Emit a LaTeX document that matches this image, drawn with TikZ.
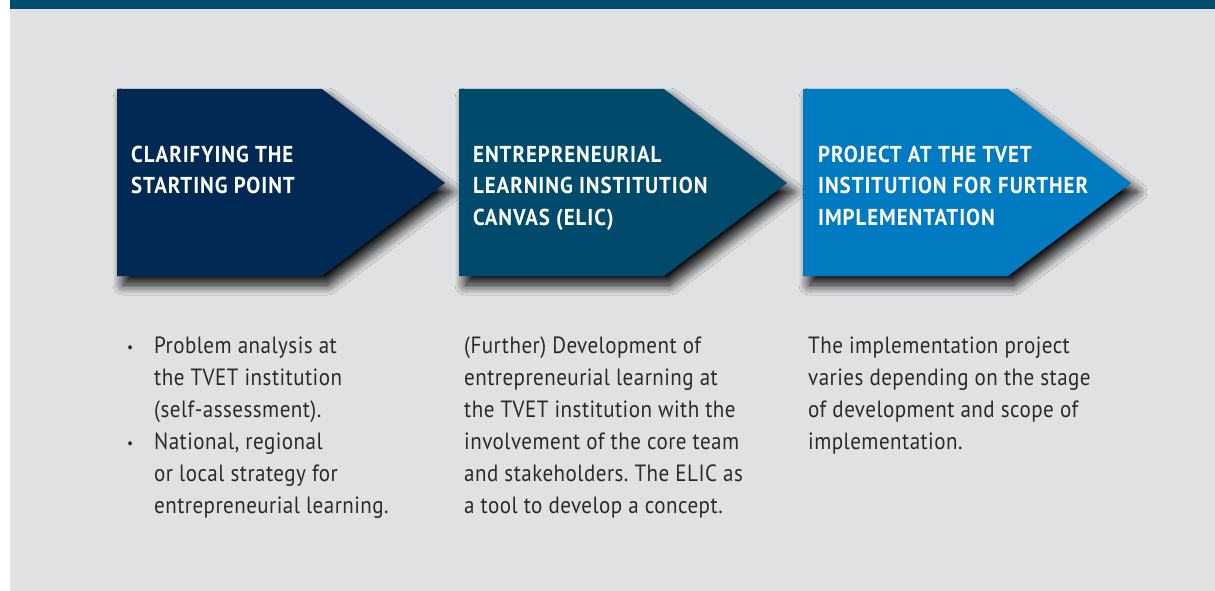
\documentclass[tikz,border=0pt]{standalone}
\usepackage{fontspec}
\usetikzlibrary{shadows.blur}
\newfontfamily\headfont[FakeStretch=0.91,LetterSpace=4]{PT Sans}
\newfontfamily\bodyfont[FakeStretch=0.895,LetterSpace=2]{PT Sans}
\definecolor{bgGrey}{HTML}{E0E1E3}
\definecolor{barTeal}{HTML}{004D6F}
\definecolor{navyA}{HTML}{002A54}
\definecolor{tealB}{HTML}{004B6C}
\definecolor{blueC}{HTML}{007AC1}
\definecolor{bodyGrey}{HTML}{2A2A2C}
\tikzset{
  chevron/.style={blur shadow={shadow xshift=6pt, shadow yshift=-9pt, shadow blur radius=10pt, shadow blur steps=14, shadow opacity=95}},
  headtxt/.style={anchor=base west, inner sep=0pt, text=white, font=\headfont\bfseries\fontsize{23}{31.5}\selectfont},
  bodytxt/.style={anchor=base west, inner sep=0pt, text=bodyGrey, font=\bodyfont\fontsize{23.5}{32}\selectfont}
}
\newcommand{\blk}[2]{\parbox[t]{#1}{\raggedright\frenchspacing #2}}
\newcommand{\bul}{\makebox[27pt][l]{\raisebox{1pt}{\fontsize{15}{15}\selectfont •}}}
\newcommand{\ind}{\hspace*{27pt}}
\begin{document}
\begin{tikzpicture}[x=1pt,y=-1pt]
\useasboundingbox (0,0) rectangle (1215,591);
\fill[white] (0,0) rectangle (1215,591);
\fill[bgGrey] (10,0) rectangle (1215,591);
\fill[barTeal] (10,0) rectangle (1215,9);
% chevrons
\fill[navyA, chevron] (117,89) -- (322,89) -- (445,183) -- (322,276) -- (117,276) -- cycle;
\fill[tealB, chevron] (459,89) -- (664,89) -- (787,183) -- (664,276) -- (459,276) -- cycle;
\fill[blueC, chevron] (803,89) -- (1008,89) -- (1131,183) -- (1008,276) -- (803,276) -- cycle;
% headings
\node[headtxt] (h1) at (131,162) {\blk{300pt}{CLARIFYING THE\\STARTING POINT}};
\node[headtxt] (h2) at (473,162) {\blk{300pt}{ENTREPRENEURIAL\\LEARNING INSTITUTION\\CANVAS (ELIC)}};
\node[headtxt] (h3) at (818,162) {\blk{300pt}{PROJECT AT THE TVET\\INSTITUTION FOR FURTHER\\IMPLEMENTATION}};
% body texts
\node[bodytxt] (b1) at (127,353) {\blk{320pt}{\bul Problem analysis at\\\ind the TVET institution\\\ind (self-assessment).\\\bul National, regional\\\ind or local strategy for\\\ind entrepreneurial learning.}};
\node[bodytxt] (b2) at (464,353) {\blk{320pt}{(Further) Development of\\entrepreneurial learning at\\the TVET institution with the\\involvement of the core team\\and stakeholders. The ELIC as\\a tool to develop a concept.}};
\node[bodytxt] (b3) at (808,353) {\blk{320pt}{The implementation project\\varies depending on the stage\\of development and scope of\\implementation.}};
\end{tikzpicture}
\end{document}
